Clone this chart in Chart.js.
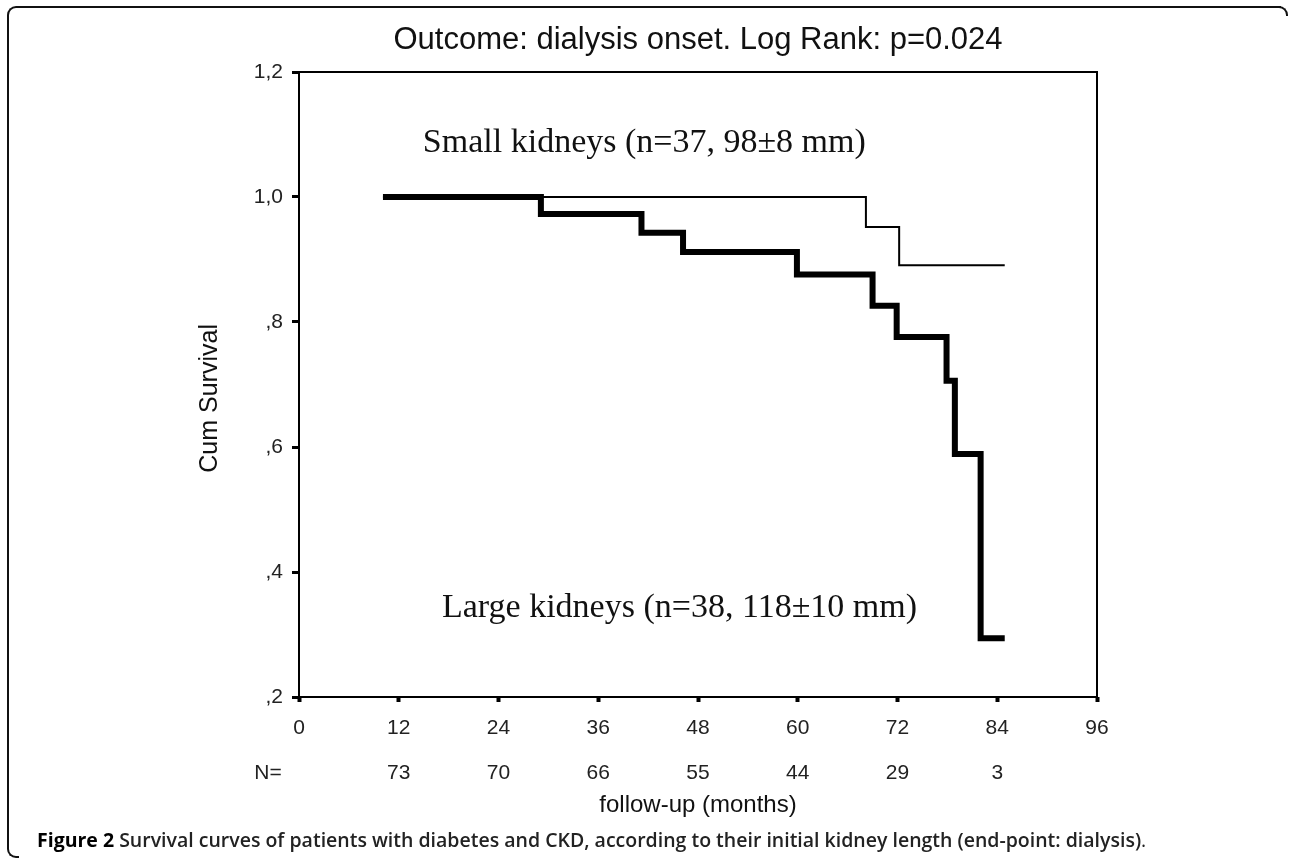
<!DOCTYPE html>
<html>
<head>
<meta charset="utf-8">
<script src="https://cdn.jsdelivr.net/npm/chart.js@4.4.0/dist/chart.umd.min.js"></script>
<style>
html,body{margin:0;padding:0;background:#fff;}
#wrap{position:relative;width:1290px;height:861px;overflow:hidden;background:#fff;}
#c{position:absolute;left:0;top:0;}
.frame{position:absolute;left:7px;top:6px;width:1272px;height:840px;border-top:2px solid #111;border-left:2px solid #111;border-top-left-radius:9px;}
.curlb{position:absolute;left:7px;top:836px;width:10px;height:20px;border-left:2px solid #111;border-bottom:2px solid #111;border-bottom-left-radius:9px;}
.curlr{position:absolute;left:1272px;top:6px;width:14px;height:8px;border-top:2px solid #111;border-right:2px solid #111;border-top-right-radius:9px;}
#cap{position:absolute;left:37px;top:826px;font-family:"Open Sans",sans-serif;font-size:19.5px;font-weight:600;color:#222;white-space:nowrap;}
#cap b{font-weight:700;color:#000;}
</style>
</head>
<body>
<div id="wrap">
<canvas id="c" width="1290" height="861"></canvas>
<div class="frame"></div><div class="curlb"></div><div class="curlr"></div>
<div id="cap"><b>Figure 2</b> Survival curves of patients with diabetes and CKD, according to their initial kidney length (end-point: dialysis)<span style="font-weight:400">.</span></div>
</div>
<script>
// ---- data ----
const smallMonths = [10.1, 68.2, 72.2, 84.9];
const smallSurv   = [1.0, 0.952, 0.891, 0.891];
const largeMonths = [10.1, 29.1, 41.2, 46.2, 59.9, 69.0, 71.9, 77.9, 78.9, 82.0, 84.9];
const largeSurv   = [1.0, 0.973, 0.943, 0.912, 0.876, 0.826, 0.776, 0.706, 0.589, 0.294, 0.294];
const xTickLabels = ['0','12','24','36','48','60','72','84','96'];
const atRiskN     = ['', '73', '70', '66', '55', '44', '29', '3', ''];
const yTickLabels = [',2', ',4', ',6', ',8', '1,0', '1,2'];
const titleText = 'Outcome: dialysis onset. Log Rank: p=0.024';
const smallLabel = 'Small kidneys (n=37, 98\u00b18 mm)';
const largeLabel = 'Large kidneys (n=38, 118\u00b110 mm)';

const toPts = (xs, ys) => xs.map((x, i) => ({x: x, y: ys[i]}));

const framePlugin = {
  id: 'framePlugin',
  beforeDatasetsDraw(chart) {
    const a = chart.chartArea, ctx = chart.ctx;
    ctx.save();
    ctx.strokeStyle = '#000';
    ctx.lineWidth = 2;
    ctx.strokeRect(a.left, a.top, a.right - a.left, a.bottom - a.top);
    ctx.restore();
  },
  afterDraw(chart) {
    const ctx = chart.ctx, xs = chart.scales.x, ys = chart.scales.y, a = chart.chartArea;
    ctx.save();
    ctx.fillStyle = '#111';
    ctx.font = '34px "Liberation Serif", "Times New Roman", serif';
    ctx.textBaseline = 'alphabetic';
    ctx.textAlign = 'left';
    ctx.fillText(smallLabel, xs.getPixelForValue(14.9), ys.getPixelForValue(1.072));
    ctx.fillText(largeLabel, xs.getPixelForValue(17.2), ys.getPixelForValue(0.328));
    ctx.font = '21px "Liberation Sans", Arial, sans-serif';
    ctx.fillStyle = '#222';
    ctx.textAlign = 'center';
    ctx.textBaseline = 'middle';
    ctx.fillText('N=', a.left - 31, xs.top + 8.5 + 45 + 22.5);
    ctx.restore();
  }
};

new Chart(document.getElementById('c'), {
  type: 'line',
  data: {
    datasets: [
      {
        label: 'Small kidneys',
        data: toPts(smallMonths, smallSurv),
        borderColor: '#000',
        borderWidth: 2,
        stepped: 'before',
        pointRadius: 0,
        fill: false,
        borderCapStyle: 'butt',
        borderJoinStyle: 'miter',
        order: 2
      },
      {
        label: 'Large kidneys',
        data: toPts(largeMonths, largeSurv),
        borderColor: '#000',
        borderWidth: 6,
        stepped: 'before',
        pointRadius: 0,
        fill: false,
        borderCapStyle: 'butt',
        borderJoinStyle: 'miter',
        order: 1
      }
    ]
  },
  options: {
    responsive: false,
    animation: false,
    devicePixelRatio: 1,
    layout: {padding: {left: 0, right: 193, top: 0, bottom: 0}},
    plugins: {
      legend: {display: false},
      tooltip: {enabled: false},
      title: {
        display: true,
        text: titleText,
        fullSize: false,
        color: '#111',
        font: {family: '"Liberation Sans", Arial, sans-serif', size: 31, weight: 'normal', lineHeight: 1.2},
        padding: {top: 21.4, bottom: 13.4}
      }
    },
    scales: {
      x: {
        type: 'linear',
        min: 0, max: 96,
        afterFit(s) { s.height = 164; },
        border: {display: false},
        grid: {display: true, drawOnChartArea: false, drawTicks: true, tickLength: 5, tickWidth: 4, color: '#000'},
        ticks: {
          stepSize: 12,
          autoSkip: false,
          maxRotation: 0,
          padding: 3.5,
          color: '#222',
          font: {family: '"Liberation Sans", Arial, sans-serif', size: 21, lineHeight: 45 / 21},
          callback: (v, i) => [xTickLabels[i], atRiskN[i]]
        },
        title: {
          display: true,
          text: 'follow-up (months)',
          color: '#111',
          font: {family: '"Liberation Sans", Arial, sans-serif', size: 24, lineHeight: 1.2},
          padding: {top: 0, bottom: 41.6}
        }
      },
      y: {
        type: 'linear',
        min: 0.2, max: 1.2,
        afterFit(s) { s.width = 299; },
        border: {display: false},
        grid: {display: true, drawOnChartArea: false, drawTicks: true, tickLength: 7, tickWidth: 3, color: '#000'},
        ticks: {
          stepSize: 0.2,
          padding: 9,
          color: '#222',
          font: {family: '"Liberation Sans", Arial, sans-serif', size: 21, lineHeight: 1.2},
          callback: (v, i) => yTickLabels[i]
        },
        title: {
          display: true,
          text: 'Cum Survival\u00a0\u00a0\u00a0\u00a0',
          color: '#111',
          font: {family: '"Liberation Sans", Arial, sans-serif', size: 25, lineHeight: 1.2},
          padding: {top: 195, bottom: 0}
        }
      }
    }
  },
  plugins: [framePlugin]
});
</script>
</body>
</html>
